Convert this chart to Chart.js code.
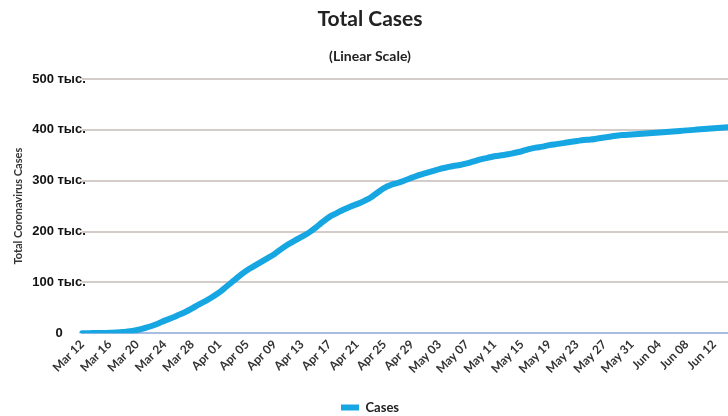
<!DOCTYPE html>
<html>
<head>
<meta charset="utf-8">
<script src="https://cdn.jsdelivr.net/npm/chart.js@4"></script>
<style>
    html, body { margin: 0; padding: 0; background: #fff; }
    #wrap { width: 728px; height: 416px; }
</style>
</head>
<body>
<div id="wrap"><canvas id="myChart"></canvas></div>
<script>
// daily categories, Mar 12 .. Jun 14
var days = [
    'Mar 12','Mar 13','Mar 14','Mar 15','Mar 16','Mar 17','Mar 18','Mar 19','Mar 20','Mar 21',
    'Mar 22','Mar 23','Mar 24','Mar 25','Mar 26','Mar 27','Mar 28','Mar 29','Mar 30','Mar 31',
    'Apr 01','Apr 02','Apr 03','Apr 04','Apr 05','Apr 06','Apr 07','Apr 08','Apr 09','Apr 10',
    'Apr 11','Apr 12','Apr 13','Apr 14','Apr 15','Apr 16','Apr 17','Apr 18','Apr 19','Apr 20',
    'Apr 21','Apr 22','Apr 23','Apr 24','Apr 25','Apr 26','Apr 27','Apr 28','Apr 29','Apr 30',
    'May 01','May 02','May 03','May 04','May 05','May 06','May 07','May 08','May 09','May 10',
    'May 11','May 12','May 13','May 14','May 15','May 16','May 17','May 18','May 19','May 20',
    'May 21','May 22','May 23','May 24','May 25','May 26','May 27','May 28','May 29','May 30',
    'May 31','Jun 01','Jun 02','Jun 03','Jun 04','Jun 05','Jun 06','Jun 07','Jun 08','Jun 09',
    'Jun 10','Jun 11','Jun 12','Jun 13','Jun 14'
];

// total cases, thousands
var cases = [
    0.3, 0.4, 0.5, 0.7, 1.0, 1.5, 2.5, 4.0, 6.5, 10,
    14, 19, 25, 30, 36, 42, 49, 57, 64, 72,
    81, 92, 103, 114, 124, 132, 140, 148, 156, 166,
    175, 183, 190, 198, 208, 219, 229, 236, 243, 249,
    254, 260, 267, 277, 286, 292, 296, 301, 306, 311,
    315, 319, 323, 326, 329, 331, 334, 338, 342, 345,
    348, 350, 352, 355, 358, 362, 365, 367, 370, 372,
    374, 376, 378, 380, 381, 383, 385, 387, 389, 390,
    391, 392, 393, 394, 395, 396, 397, 398, 399, 400,
    401, 402, 403, 404, 405
];

// x labels actually printed under the axis (every 4th day)
var shownDays = ['Mar 12','Mar 16','Mar 20','Mar 24','Mar 28','Apr 01','Apr 05','Apr 09',
    'Apr 13','Apr 17','Apr 21','Apr 25','Apr 29','May 03','May 07','May 11','May 15',
    'May 19','May 23','May 27','May 31','Jun 04','Jun 08','Jun 12'];

var yTicks = [0, 100, 200, 300, 400, 500];

let ctx = document.getElementById("myChart");

var data = {
    labels: days,
    datasets: [{
        label: 'Cases',
        data: cases.map(v => v * 1000),
        borderColor: 'rgb(22,166,226)',
        backgroundColor: 'rgb(22,166,226)',
        borderWidth: 6,
        borderCapStyle: 'round',
        borderJoinStyle: 'round',
        pointRadius: 0,
        tension: 0.4,
        fill: false
    }]
};

var myLineChart = new Chart(ctx, {
    type: 'line',
    data: data,
    options: {
        responsive: true,
        maintainAspectRatio: false,
        animation: false,
        layout: { padding: { left: 12, right: 0, top: 0, bottom: -8 } },
        plugins: {
            title: {
                display: true,
                text: 'Total Cases',
                color: '#222',
                font: { family: 'Lato', size: 21, weight: 'bold' },
                padding: { top: 7, bottom: 0 }
            },
            subtitle: {
                display: true,
                text: '(Linear Scale)',
                color: '#222',
                font: { family: 'Lato', size: 14, weight: 'bold' },
                padding: { top: 16, bottom: 14 }
            },
            legend: {
                position: 'bottom',
                labels: {
                    usePointStyle: true,
                    pointStyle: 'line',
                    pointStyleWidth: 18,
                    color: '#222',
                    font: { family: 'Lato', size: 13, weight: 'bold' },
                    padding: 2
                }
            },
            tooltip: { enabled: false }
        },
        scales: {
            x: {
                grid: { color: 'transparent', drawTicks: false },
                border: { display: true, color: '#a9bde0', width: 2 },
                afterFit: function(axis) {
                    axis.paddingRight = 0;
                    axis.height += 19;
                },
                ticks: {
                    autoSkip: false,
                    minRotation: 45,
                    maxRotation: 45,
                    padding: 4,
                    color: '#333',
                    font: { family: 'Lato', size: 12, weight: 'bold' },
                    callback: function(val, i) {
                        return shownDays.indexOf(days[i]) >= 0 ? days[i] : '';
                    }
                }
            },
            y: {
                min: 0,
                max: 500000,
                afterBuildTicks: function(axis) {
                    axis.ticks = yTicks.map(v => ({ value: v * 1000 }));
                },
                grid: {
                    drawTicks: false,
                    color: ctx => ctx.tick && ctx.tick.value === 0 ? 'transparent' : '#d3ccc8',
                    lineWidth: 2
                },
                border: { display: false },
                title: {
                    display: true,
                    text: 'Total Coronavirus Cases',
                    color: '#333',
                    font: { family: 'Lato', size: 11, weight: 'bold' },
                    padding: { top: 0, bottom: 157 }
                },
                ticks: {
                    mirror: true,
                    crossAlign: 'center',
                    padding: -50,
                    color: '#111',
                    font: { family: 'Liberation Sans', size: 13, weight: 'bold' },
                    callback: function(v) {
                        return v === 0 ? '0' : (v / 1000) + ' тыс.';
                    }
                }
            }
        }
    }
});
</script>
</body>
</html>
